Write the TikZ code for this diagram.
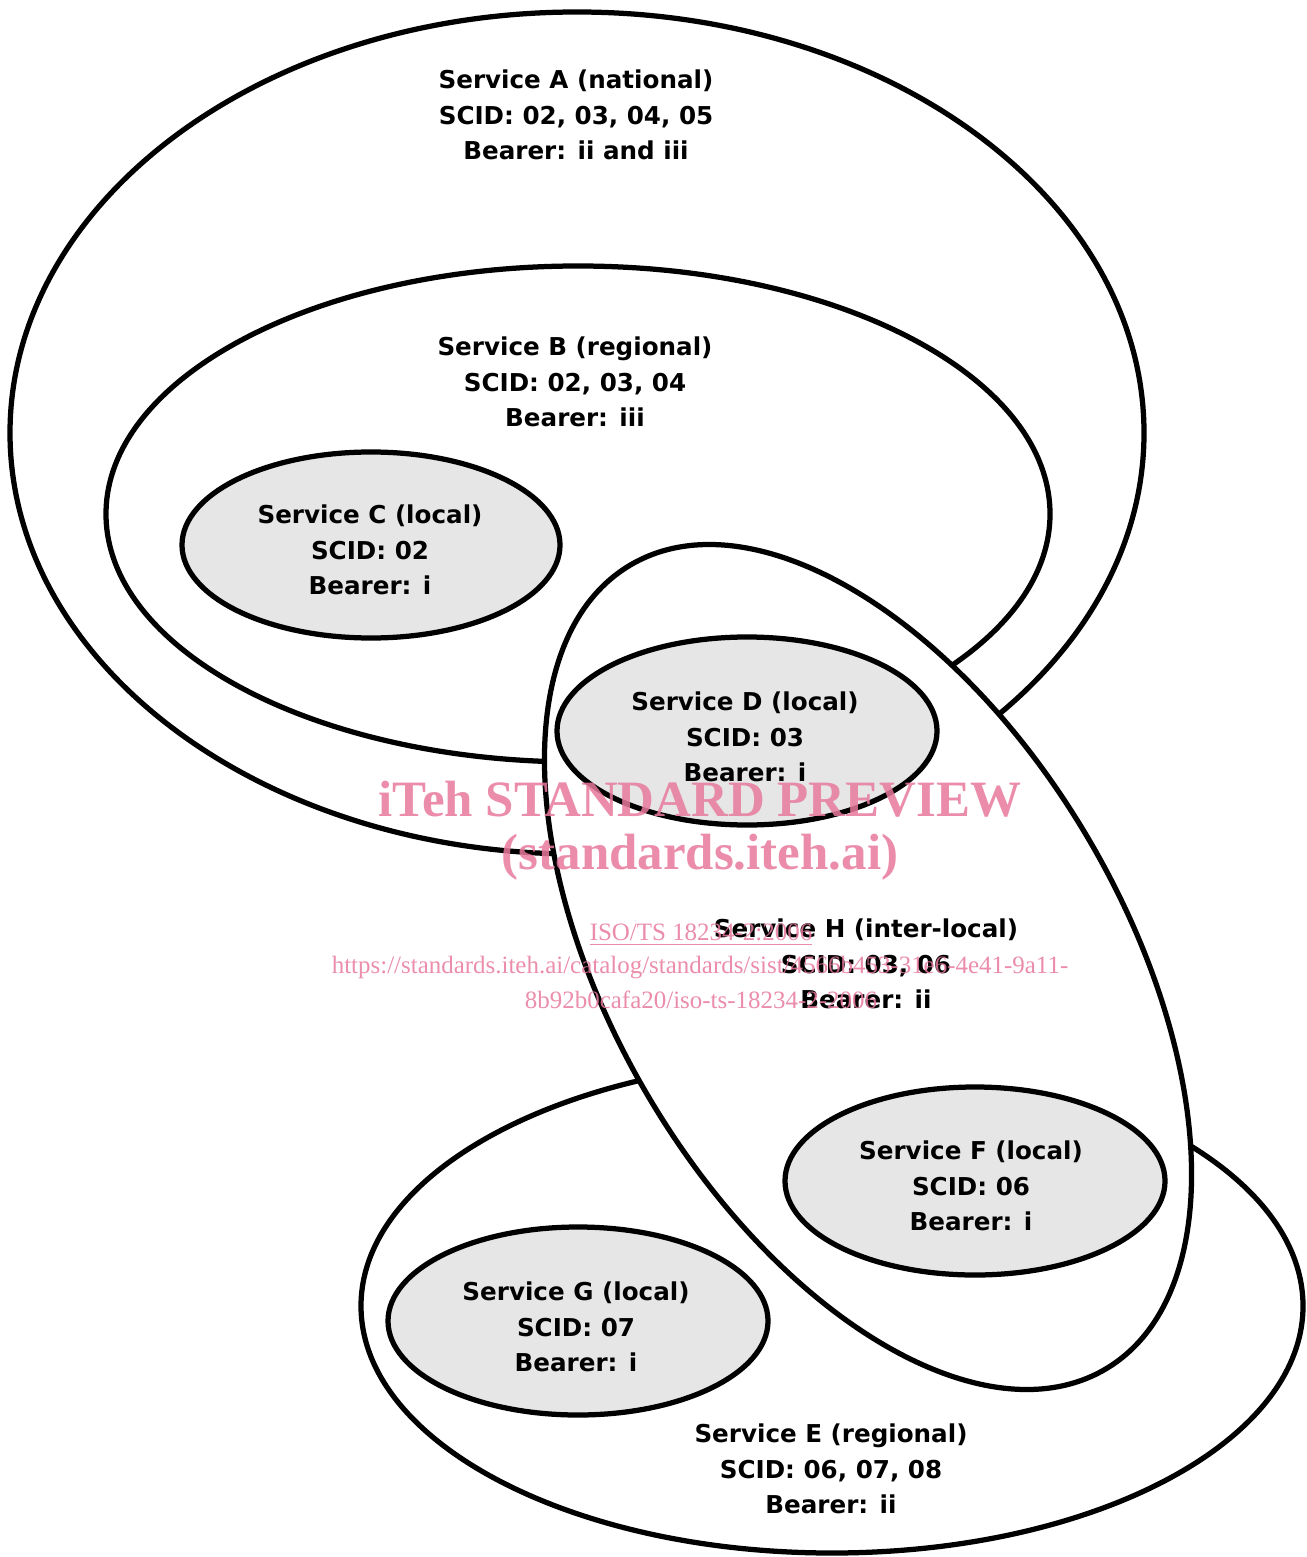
\documentclass[tikz,border=0pt]{standalone}
\usepackage{amssymb,amsmath}
\usepackage{fontspec}
\usepackage{tikz}
\usetikzlibrary{backgrounds}
\newfontfamily\svcfont{DejaVu Sans}
\newfontfamily\wmfont{Liberation Serif}
\definecolor{areagray}{RGB}{230,230,230}
\definecolor{wmpink}{RGB}{232,122,156}

\begin{document}
\begin{tikzpicture}[x=0.2mm,y=-0.2mm]%[show background grid]
%\tikzstyle{background grid}=[draw, black!50,step=50]
\useasboundingbox (0,0) rectangle (1306,1557);

\tikzstyle{area} = [draw, line width=1.05mm, fill=white]
\tikzstyle{localarea} = [area, fill=areagray]
\tikzstyle{svctext} = [align=center, inner sep=0pt,
        font=\svcfont\bfseries\fontsize{14}{20.2}\selectfont]
\tikzstyle{wmbig} = [text=wmpink, text opacity=0.85, inner sep=0pt,
        font=\wmfont\bfseries\fontsize{29}{30}\selectfont]
\tikzstyle{wmsmall} = [wmbig, font=\wmfont\fontsize{14.2}{16}\selectfont]

% national and regional (upper)
\begin{scope}
\path[area] (577,433) ellipse [x radius=567, y radius=421];
\path[area] (578,514) ellipse [x radius=472, y radius=248];
\path[localarea] (371,545) ellipse [x radius=189, y radius=93];
\end{scope}

% regional (lower)
\begin{scope}
\path[area] (832,1306) ellipse [x radius=471, y radius=247];
\path[localarea] (578,1321) ellipse [x radius=190, y radius=94];
\end{scope}

% inter-local, lies over both
\begin{scope}
\path[area, rotate around={-59.4:(868,967)}] (868,967) ellipse [x radius=467, y radius=255];
\path[localarea] (747,731) ellipse [x radius=190, y radius=94];
\path[localarea] (975,1181) ellipse [x radius=190, y radius=94];
\end{scope}

\path (576,115) node[svctext] (txtA) {Service A (national)\\SCID: 02, 03, 04, 05\\Bearer: ii and iii};
\path (575,382) node[svctext] (txtB) {Service B (regional)\\SCID: 02, 03, 04\\Bearer: iii};
\path (370,550) node[svctext] (txtC) {Service C (local)\\SCID: 02\\Bearer: i};
\path (745,737) node[svctext] (txtD) {Service D (local)\\SCID: 03\\Bearer: i};
\path (866,964) node[svctext] (txtH) {Service H (inter-local)\\SCID: 03, 06\\Bearer: ii};
\path (971,1186) node[svctext] (txtF) {Service F (local)\\SCID: 06\\Bearer: i};
\path (576,1327) node[svctext] (txtG) {Service G (local)\\SCID: 07\\Bearer: i};
\path (831,1469) node[svctext] (txtE) {Service E (regional)\\SCID: 06, 07, 08\\Bearer: ii};

% preview stamp
\path (700,799) node[wmbig] (wmA) {iTeh STANDARD PREVIEW};
\path (700,857) node[wmbig] (wmB) {(standards.iteh.ai)};
\path (701,935) node[wmsmall] (wmC) {\underline{ISO/TS 18234-2:2006}};
\path (700,968) node[wmsmall] (wmD) {https://standards.iteh.ai/catalog/standards/sist/4566b453-31e6-4e41-9a11-};
\path (701,1000) node[wmsmall] (wmE) {8b92b0cafa20/iso-ts-18234-2-2006};

\end{tikzpicture}
\end{document}
